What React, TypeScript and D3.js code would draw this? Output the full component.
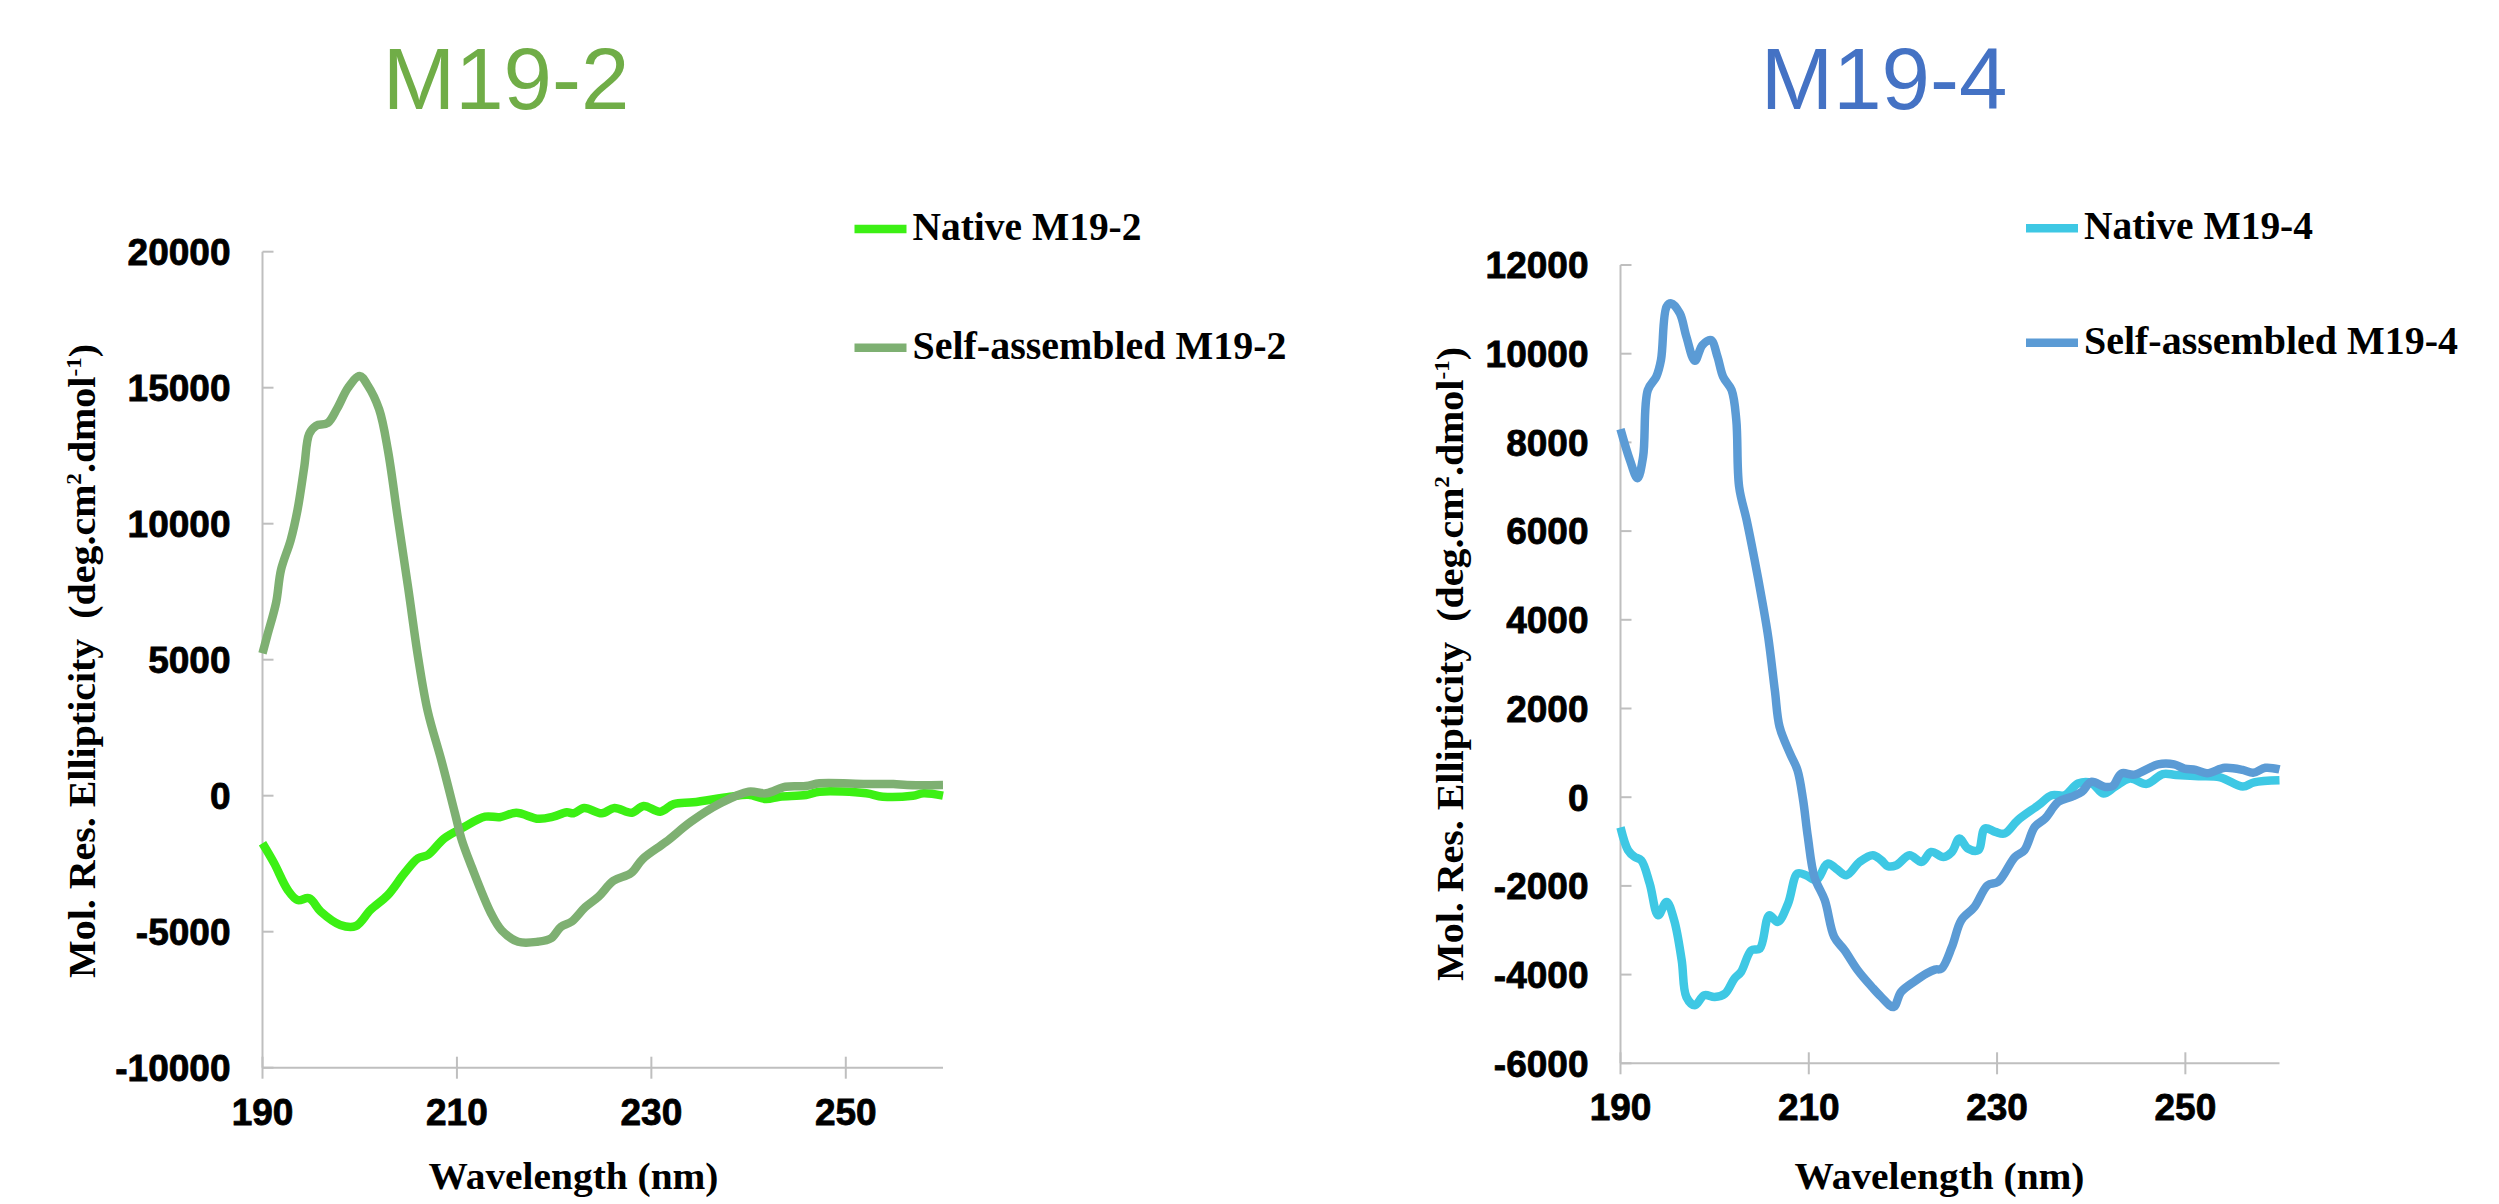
import React from 'react';
import * as d3 from 'd3';

// ---------- DATA ----------
const WAVELENGTH_TICKS = [190, 210, 230, 250];
const M192_Y_TICKS = [-10000, -5000, 0, 5000, 10000, 15000, 20000];
const M194_Y_TICKS = [-6000, -4000, -2000, 0, 2000, 4000, 6000, 8000, 10000, 12000];

const nativeM192Nm = [190, 191.2, 192.6, 193.6, 194.8, 196, 198, 199.6, 201.1, 202.9, 204.6, 206, 207, 208.7, 210.5, 212.9, 214.4, 216.1, 218.4, 219.9, 221.3, 222, 223.1, 224.9, 226.2, 228, 229.2, 230.9, 232.3, 234.3, 238.1, 240, 241.8, 243.2, 245.9, 247.3, 252.1, 253.8, 256.9, 258, 260];
const nativeM192Val = [-1750, -2485, -3466, -3834, -3772, -4264, -4753, -4790, -4200, -3650, -2853, -2300, -2180, -1566, -1198, -772, -790, -630, -850, -772, -610, -647, -450, -647, -450, -625, -375, -588, -310, -243, -37, 30, -120, -37, 26, 147, 88, -37, 0, 88, 0];

const selfM192Nm = [190, 190.5, 191.4, 191.9, 192.9, 193.6, 194.3, 194.8, 195.5, 196.7, 197.7, 198.8, 200, 200.8, 202, 202.9, 203.9, 205, 206, 207, 208.4, 209.8, 210.5, 211.5, 213.5, 214.6, 216.3, 218.3, 219.7, 220.7, 221.8, 223.2, 224.6, 226.1, 227.9, 229.1, 231.5, 234.1, 237.1, 240, 241.8, 243.8, 245.9, 247.3, 252.1, 254.9, 256.3, 260];
const selfM192Val = [5235, 5900, 7100, 8300, 9400, 10500, 12100, 13300, 13600, 13700, 14250, 15000, 15430, 15100, 14200, 12700, 10250, 7600, 5100, 3100, 1300, -650, -1630, -2600, -4320, -4950, -5370, -5370, -5240, -4820, -4630, -4100, -3700, -3130, -2850, -2330, -1700, -950, -280, 147, 88, 330, 356, 455, 430, 430, 393, 393];

const nativeM194Nm = [190, 190.8, 191.5, 192.2, 193.1, 194, 194.9, 195.7, 196.5, 197, 197.9, 198.9, 200, 201.1, 202.1, 202.8, 203.9, 204.8, 205.8, 206.7, 207.8, 208.8, 209.7, 210.8, 212, 212.9, 214, 215.4, 216.8, 217.7, 218.4, 219.3, 220.7, 222, 223, 224.3, 225.2, 226, 226.9, 228, 228.7, 229.8, 230.8, 232.2, 234.4, 235.8, 237.2, 238.6, 240, 241.3, 242.5, 244.1, 245.9, 247.6, 249, 251.4, 253.7, 256.1, 257.3, 260];
const nativeM194Val = [-680, -1195, -1347, -1421, -1947, -2662, -2361, -2774, -3677, -4505, -4692, -4466, -4505, -4428, -4089, -3940, -3451, -3413, -2662, -2812, -2398, -1721, -1759, -1872, -1496, -1608, -1759, -1459, -1308, -1421, -1556, -1534, -1308, -1459, -1234, -1347, -1234, -932, -1157, -1195, -706, -782, -819, -519, -180, 45, 45, 309, 323, 83, 232, 422, 300, 521, 503, 474, 447, 239, 334, 381];

const selfM194Nm = [190, 191, 191.8, 192.4, 192.9, 193.8, 194.3, 194.9, 195.4, 196.3, 197, 197.9, 198.7, 199.6, 200.3, 200.9, 201.8, 202.3, 202.6, 203.4, 204.2, 205.1, 205.7, 206.4, 206.9, 208, 208.8, 209.4, 209.9, 210.6, 211.7, 212.7, 213.8, 215.2, 216.7, 217.7, 219, 219.8, 221.3, 222.5, 223.4, 224.1, 225.2, 226.2, 227.6, 229, 230.1, 231.9, 232.9, 234, 235.1, 236.5, 237.9, 239, 240, 241.5, 242.3, 243.2, 244.6, 247.1, 248.8, 249.9, 251.1, 252.3, 254.2, 256.1, 257.2, 258.5, 260];
const selfM194Val = [8300, 7600, 7190, 7676, 9180, 9480, 9857, 11060, 11135, 10910, 10383, 9841, 10195, 10308, 9932, 9480, 9180, 8503, 7000, 6248, 5400, 4369, 3600, 2400, 1586, 986, 609, -68, -895, -1798, -2323, -3150, -3451, -3902, -4279, -4505, -4730, -4392, -4144, -3977, -3887, -3864, -3377, -2774, -2474, -1985, -1910, -1347, -1195, -670, -480, -106, 7, 120, 345, 232, 255, 535, 510, 740, 740, 645, 616, 541, 663, 616, 550, 663, 625];

const PANEL_TITLES = ['M19-2', 'M19-4'];
const LEGEND_LABELS_M192 = ['Native M19-2', 'Self-assembled M19-2'];
const LEGEND_LABELS_M194 = ['Native M19-4', 'Self-assembled M19-4'];
const X_TITLE = 'Wavelength (nm)';

// ---------- STYLE ----------
const SERIF = "'Liberation Serif', 'Times New Roman', serif";
const SANS = "'Liberation Sans', Arial, sans-serif";
const AXIS_COLOR = '#BFBFBF';

type Series = { nm: number[]; val: number[]; color: string; label: string };

type PanelProps = {
  title: string;
  titleColor: string;
  titleX: number;
  x0: number; x1: number;
  yTop: number; yBottom: number;
  yDomain: [number, number];
  yTicks: number[];
  series: Series[];
  legendX: number;
  legendY: number[];
  yTitleX: number;
  yTitleY: number;
  xTitleX: number;
};

function Panel(p: PanelProps) {
  const x = d3.scaleLinear().domain([190, 260]).range([p.x0, p.x1]);
  const y = d3.scaleLinear().domain(p.yDomain).range([p.yBottom, p.yTop]);
  const line = d3.line<[number, number]>()
    .x(d => x(d[0]))
    .y(d => y(d[1]))
    .curve(d3.curveCatmullRom.alpha(0.5));

  return (
    <g>
      <text x={p.titleX} y={109} textAnchor="middle" fontFamily={SANS} fontSize={87} fill={p.titleColor}>{p.title}</text>

      {/* y axis */}
      <line x1={p.x0} x2={p.x0} y1={p.yTop} y2={p.yBottom} stroke={AXIS_COLOR} strokeWidth={2} />
      {p.yTicks.map(t => (
        <g key={'y' + t}>
          <line x1={p.x0} x2={p.x0 + 11} y1={y(t)} y2={y(t)} stroke={AXIS_COLOR} strokeWidth={2} />
          <text x={p.x0 - 32} y={y(t)} dy="0.36em" textAnchor="end" fontFamily={SANS} fontWeight="bold" fontSize={37}
            fill="#000" stroke="#000" strokeWidth={0.8}>{t}</text>
        </g>
      ))}

      {/* x axis */}
      <line x1={p.x0} x2={p.x1} y1={p.yBottom} y2={p.yBottom} stroke={AXIS_COLOR} strokeWidth={2} />
      {WAVELENGTH_TICKS.map(t => (
        <g key={'x' + t}>
          <line x1={x(t)} x2={x(t)} y1={p.yBottom - 11} y2={p.yBottom + 11} stroke={AXIS_COLOR} strokeWidth={2} />
          <text x={x(t)} y={p.yBottom + 57} textAnchor="middle" fontFamily={SANS} fontWeight="bold" fontSize={37}
            fill="#000" stroke="#000" strokeWidth={0.8}>{t}</text>
        </g>
      ))}

      {/* series */}
      {p.series.map(s => (
        <path key={s.label} d={line(s.nm.map((n, i) => [n, s.val[i]] as [number, number])) || ''}
          fill="none" stroke={s.color} strokeWidth={8.5} strokeLinejoin="round" strokeLinecap="butt" />
      ))}

      {/* legend */}
      {p.series.map((s, i) => (
        <g key={'lg' + s.label}>
          <line x1={p.legendX} x2={p.legendX + 52} y1={p.legendY[i]} y2={p.legendY[i]} stroke={s.color} strokeWidth={8.5} />
          <text x={p.legendX + 58} y={p.legendY[i] + 11} fontFamily={SERIF} fontWeight="bold" fontSize={39}
            textLength={i === 0 ? 229 : 374} lengthAdjust="spacingAndGlyphs" fill="#000">{s.label}</text>
        </g>
      ))}

      {/* axis titles */}
      <text x={p.xTitleX} y={1189} textAnchor="middle" fontFamily={SERIF} fontWeight="bold" fontSize={38}
        textLength={290} lengthAdjust="spacingAndGlyphs" fill="#000">{X_TITLE}</text>
      <text transform={`translate(${p.yTitleX},${p.yTitleY}) rotate(-90)`} textAnchor="middle" fontFamily={SERIF}
        fontWeight="bold" fontSize={38} textLength={634} lengthAdjust="spacingAndGlyphs" fill="#000" style={{ whiteSpace: 'pre' }}>
        {'Mol. Res. Ellipticity  (deg.cm'}<tspan fontSize={22} dy={-14}>2</tspan><tspan dy={14}>{'.dmol'}</tspan><tspan fontSize={22} dy={-14}>-1</tspan><tspan dy={14}>)</tspan>
      </text>
    </g>
  );
}

export default function App() {
  return (
    <svg width={2499} height={1204} style={{ position: 'absolute', left: 0, top: 0, background: '#fff' }}>
      <rect x={0} y={0} width={2499} height={1204} fill="#fff" />
      <Panel
        title={PANEL_TITLES[0]} titleColor="#70AD47" titleX={506}
        x0={262.5} x1={943} yTop={251.7} yBottom={1067.7}
        yDomain={[-10000, 20000]} yTicks={M192_Y_TICKS}
        series={[
          { nm: nativeM192Nm, val: nativeM192Val, color: '#3CF014', label: LEGEND_LABELS_M192[0] },
          { nm: selfM192Nm, val: selfM192Val, color: '#7EB072', label: LEGEND_LABELS_M192[1] },
        ]}
        legendX={854.5} legendY={[229, 347.7]}
        yTitleX={95} yTitleY={661} xTitleX={573.5}
      />
      <Panel
        title={PANEL_TITLES[1]} titleColor="#4472C4" titleX={1884}
        x0={1620.5} x1={2279.5} yTop={265} yBottom={1063.3}
        yDomain={[-6000, 12000]} yTicks={M194_Y_TICKS}
        series={[
          { nm: nativeM194Nm, val: nativeM194Val, color: '#3EC8E4', label: LEGEND_LABELS_M194[0] },
          { nm: selfM194Nm, val: selfM194Val, color: '#5B9BD5', label: LEGEND_LABELS_M194[1] },
        ]}
        legendX={2026} legendY={[228.3, 342.7]}
        yTitleX={1463} yTitleY={664} xTitleX={1939.5}
      />
    </svg>
  );
}
